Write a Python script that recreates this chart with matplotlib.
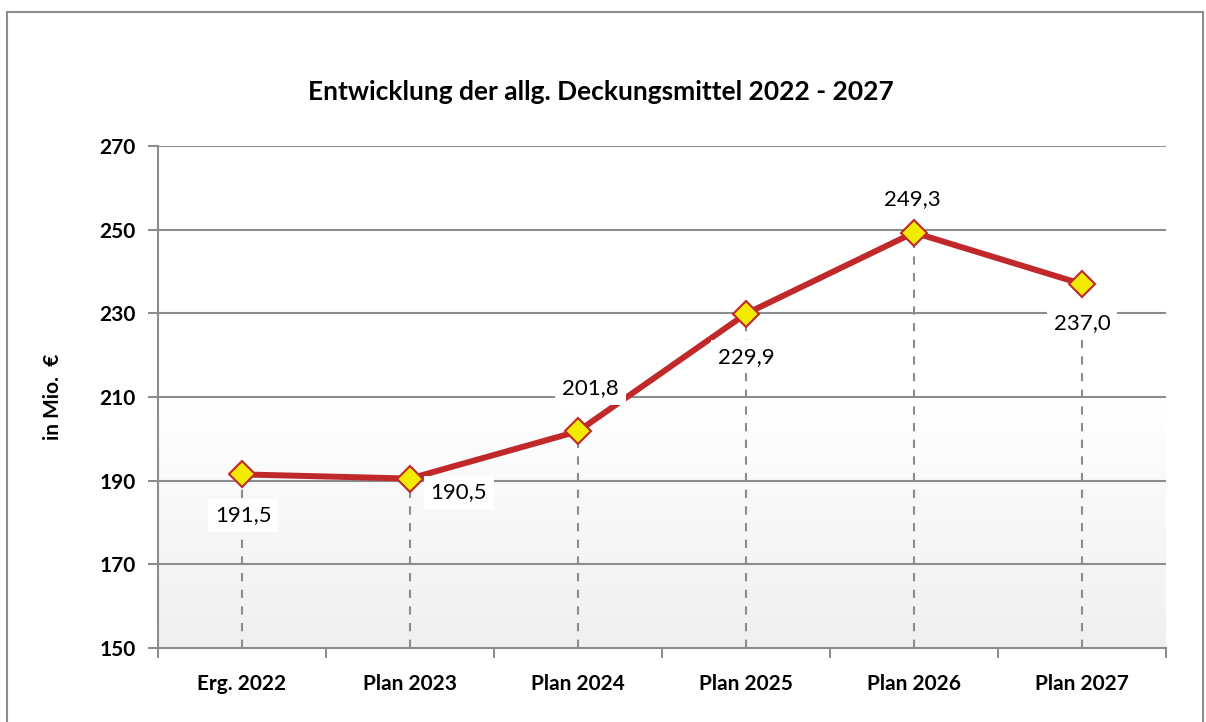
import matplotlib.pyplot as plt
import numpy as np
from matplotlib.patches import Rectangle
from matplotlib.colors import LinearSegmentedColormap

categories = ["Erg. 2022", "Plan 2023", "Plan 2024", "Plan 2025", "Plan 2026", "Plan 2027"]
values = [191.5, 190.5, 201.8, 229.9, 249.3, 237.0]
value_labels = ["191,5", "190,5", "201,8", "229,9", "249,3", "237,0"]
yticks = [150, 170, 190, 210, 230, 250, 270]

plt.rcParams['font.family'] = ['Lato', 'DejaVu Sans']

fig = plt.figure(figsize=(12.06, 7.22), dpi=100)
W, H = 1206, 722
ax = fig.add_axes([158 / W, 1 - 648 / H, (1166 - 158) / W, (648 - 146) / H])

# outer chart border
fig.patches.append(Rectangle((7 / W, -0.05), (1203 - 7) / W, 1 - 12 / H + 0.05,
                             transform=fig.transFigure, fill=False,
                             edgecolor='#8c8c8c', linewidth=1.5))

x = np.arange(len(categories))
ax.set_xlim(-0.5, len(categories) - 0.5)
ax.set_ylim(150, 270)

# background gradient white -> light gray
grad = np.linspace(1.0, 0.0, 256).reshape(-1, 1)
cmap = LinearSegmentedColormap.from_list('g', ['#ffffff', '#ffffff', '#f0f0f0'])
ax.imshow(grad, extent=[-0.5, len(categories) - 0.5, 150, 270], aspect='auto',
          cmap=cmap, origin='lower', zorder=0, vmin=0, vmax=1)

for t in yticks[1:]:
    ax.axhline(t, color='#8c8c8c', linewidth=1.5, zorder=1)

# drop lines
for xi, v in zip(x, values):
    ax.plot([xi, xi], [150, v], color='#8c8c8c', linestyle=(0, (4, 4)), linewidth=1.5, zorder=2)

ax.plot(x, values, color='#c0282a', linewidth=4.3, zorder=3, solid_capstyle='round')
ax.plot(x, values, linestyle='none', marker='D', markersize=13, markerfacecolor='#f2ea00',
        markeredgecolor='#c0282a', markeredgewidth=1.5, zorder=4)

offsets = [(1, -29.5), (35, -10), (9, 31), (0, -31), (-1, 24), (0, -28)]
bbox = dict(boxstyle='square,pad=0.3', facecolor='white', edgecolor='none')
for xi, v, lab, off in zip(x, values, value_labels, offsets):
    ax.annotate(lab, (xi, v), xytext=off, textcoords='offset points', ha='center', va='center',
                fontsize=16, color='black', bbox=bbox, zorder=5)

ax.set_xticks(np.arange(len(categories) + 1) - 0.5)
ax.set_xticklabels([])
ax.set_xticks(x, minor=True)
ax.set_xticklabels(categories, minor=True, fontsize=15, fontweight='bold')
ax.tick_params(axis='x', which='minor', length=0, pad=19)
ax.tick_params(axis='x', which='major', length=7, width=1.5, color='#8c8c8c', direction='out')
ax.set_yticks(yticks)
ax.set_yticklabels([str(t) for t in yticks], fontsize=15, fontweight='bold')
ax.tick_params(axis='y', length=7, width=1.5, color='#8c8c8c', pad=9)

for s in ['top', 'right']:
    ax.spines[s].set_visible(False)
for s in ['left', 'bottom']:
    ax.spines[s].set_color('#8c8c8c')
    ax.spines[s].set_linewidth(1.5)

ax.set_ylabel('in Mio.  €', fontsize=15, fontweight='bold', labelpad=26)
fig.text(601 / W, 1 - 92 / H, 'Entwicklung der allg. Deckungsmittel 2022 - 2027',
         ha='center', va='center', fontsize=19, fontweight='bold')

fig.savefig('out.png', dpi=100)
